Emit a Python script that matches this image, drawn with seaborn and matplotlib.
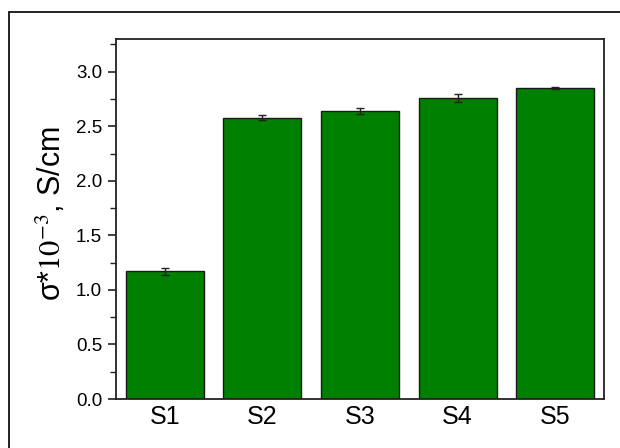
import matplotlib
matplotlib.use("Agg")
import matplotlib.pyplot as plt
from matplotlib.patches import Rectangle
from matplotlib.ticker import MultipleLocator, FormatStrFormatter
import numpy as np
import pandas as pd
import seaborn as sns

# Conductivity of the five samples
samples = ["S1", "S2", "S3", "S4", "S5"]
sigma = [1.17, 2.58, 2.64, 2.76, 2.85]
sigma_err = [0.03, 0.02, 0.03, 0.04, 0.01]

df = pd.DataFrame({"sample": samples, "sigma": sigma, "err": sigma_err})

sns.set_theme(style="ticks")
plt.rcParams["font.family"] = ["Liberation Sans", "DejaVu Sans"]
plt.rcParams["mathtext.fontset"] = "stix"

fig = plt.figure(figsize=(6.2, 4.48), dpi=100)
ax = fig.add_axes([116 / 620, 1 - 399 / 448, (604 - 116) / 620, (399 - 39) / 448])

sns.barplot(data=df, x="sample", y="sigma", color="#008000", saturation=1,
            width=0.8, edgecolor="#1a1a1a", linewidth=1.0, errorbar=None, ax=ax)

xpos = ax.get_xticks()
ax.errorbar(xpos, df["sigma"], yerr=df["err"], fmt="none", ecolor="#222222",
            elinewidth=1.0, capsize=3, capthick=1.0, zorder=5)

ax.set_xlim(-0.5, 4.5)
ax.set_ylim(0, 3.3)
ax.yaxis.set_major_locator(MultipleLocator(0.5))
ax.yaxis.set_minor_locator(MultipleLocator(0.25))
ax.yaxis.set_major_formatter(FormatStrFormatter("%.1f"))

for s in ax.spines.values():
    s.set_visible(True)
    s.set_linewidth(1.3)
    s.set_color("#222222")

ax.tick_params(axis="y", which="major", direction="out", length=6, width=1.2,
               labelsize=13.5, colors="#222222", labelcolor="black", pad=4)
ax.tick_params(axis="y", which="minor", direction="out", length=4, width=1.0,
               colors="#222222", left=True)
ax.tick_params(axis="x", which="both", length=0, labelsize=18, labelcolor="black", pad=4)

ax.set_xlabel("")
ax.set_ylabel("σ*$\\mathrm{10^{-3}}$, S/cm", fontsize=22, color="black")
ax.yaxis.set_label_coords(-0.098, 0.515)

# Frame around the whole figure
fig.patches.append(Rectangle((9 / 620, -0.1), 1.2, 1.1 - 12 / 448, transform=fig.transFigure,
                             fill=False, edgecolor="#111111", linewidth=1.3, zorder=0))

fig.savefig("out.png", dpi=100, facecolor="white")
